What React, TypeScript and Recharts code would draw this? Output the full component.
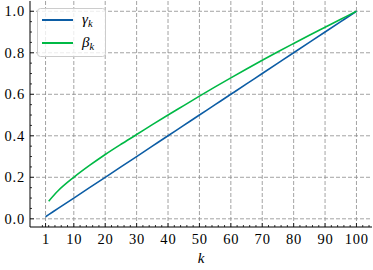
import { Legend, Line, LineChart, ReferenceLine, XAxis, YAxis } from "recharts";

const kValues = [1, 2, 5, 10, 15, 20, 25, 30, 35, 40, 45, 50, 55, 60, 65, 70, 75, 80, 85, 90, 95, 100];
const gammaValues = [0.01, 0.02, 0.05, 0.1, 0.15, 0.2, 0.25, 0.3, 0.35, 0.4, 0.45, 0.5, 0.55, 0.6, 0.65, 0.7, 0.75, 0.8, 0.85, 0.9, 0.95, 1.0];
const betaValues = [null, 0.085, 0.135, 0.2, 0.257, 0.31, 0.359, 0.406, 0.4535, 0.5, 0.5455, 0.591, 0.6355, 0.679, 0.722, 0.764, 0.805, 0.845, 0.8845, 0.923, 0.9615, 1.0];

const xMajorTicks = [1, 10, 20, 30, 40, 50, 60, 70, 80, 90, 100];
const xMinorTicks = Array.from({ length: 53 }, (_, i) => i * 2);
const yMajorTicks = [0, 0.2, 0.4, 0.6, 0.8, 1.0];
const yMinorTicks = Array.from({ length: 21 }, (_, i) => Math.round(i * 5) / 100);

const xTicks = Array.from(new Set([...xMinorTicks, ...xMajorTicks])).sort((a, b) => a - b);
const yTicks = yMinorTicks;

const legendOrder = ["gamma", "beta"];
const legendLabels: Record<string, string> = { gamma: "γ", beta: "β" };

const data = kValues.map((k, i) => ({ k, gamma: gammaValues[i], beta: betaValues[i] }));

const FONT = "'Liberation Serif', serif";
const BLUE = "#0C5DA5";
const GREEN = "#00B945";

const isMajorX = (v: number) => xMajorTicks.includes(v);
const isMajorY = (v: number) => yMajorTicks.some((t) => Math.abs(t - v) < 1e-6);

const BottomTick = (props: any) => {
  const { x, y, payload } = props;
  const major = isMajorX(payload.value);
  return (
    <g>
      <line x1={x} x2={x} y1={y} y2={y - (major ? 4 : 2)} stroke="#000" strokeWidth={0.8} />
      {major && (
        <text x={x + 0.4} y={y + 17} textAnchor="middle" style={{ fontFamily: FONT, letterSpacing: 0.8 }} fontSize={14.5} fill="#000">
          {payload.value}
        </text>
      )}
    </g>
  );
};

const TopTick = (props: any) => {
  const { x, y, payload } = props;
  const major = isMajorX(payload.value);
  return <line x1={x} x2={x} y1={y} y2={y + (major ? 4 : 2)} stroke="#000" strokeWidth={0.8} />;
};

const LeftTick = (props: any) => {
  const { x, y, payload } = props;
  const major = isMajorY(payload.value);
  return (
    <g>
      <line x1={x} x2={x + (major ? 4 : 2)} y1={y} y2={y} stroke="#000" strokeWidth={0.8} />
      {major && (
        <text x={x - 5} y={y + 5} textAnchor="end" style={{ fontFamily: FONT, letterSpacing: 0.8 }} fontSize={14.5} fill="#000">
          {payload.value.toFixed(1)}
        </text>
      )}
    </g>
  );
};

const RightTick = (props: any) => {
  const { x, y, payload } = props;
  const major = isMajorY(payload.value);
  return <line x1={x} x2={x - (major ? 4 : 2)} y1={y} y2={y} stroke="#000" strokeWidth={0.8} />;
};

const renderLegend = (props: any) => {
  const items = [...(props.payload || [])].sort(
    (a: any, b: any) => legendOrder.indexOf(a.dataKey) - legendOrder.indexOf(b.dataKey)
  );
  return (
    <svg width={69} height={49} style={{ display: "block" }}>
      <rect x={0.5} y={0.5} width={68} height={48} rx={3} fill="rgba(255,255,255,0.8)" stroke="#cccccc" />
      {items.map((entry: any, i: number) => {
        const cy = 12 + i * 23;
        return (
          <g key={entry.dataKey}>
            <line x1={5} x2={36} y1={cy} y2={cy} stroke={entry.color} strokeWidth={2} />
            <text x={45} y={cy + 4} style={{ fontFamily: FONT, fontStyle: "italic" }} fontSize={15} fill="#000">
              {legendLabels[entry.dataKey]}
              <tspan fontSize={10.5} dy={3}>k</tspan>
            </text>
          </g>
        );
      })}
    </svg>
  );
};

export default function App() {
  return (
    <div style={{ position: "absolute", left: 0, top: 0, background: "#fff" }}>
      <LineChart width={373} height={270} data={data} margin={{ top: 1, right: 1, left: 0, bottom: 0 }}>
        <XAxis
          dataKey="k"
          type="number"
          domain={[-3.95, 104.95]}
          allowDataOverflow
          ticks={xTicks}
          interval={0}
          tickSize={0}
          tickMargin={0}
          height={43}
          axisLine={{ stroke: "#000", strokeWidth: 1 }}
          tickLine={false}
          tick={BottomTick}
          label={{ value: "k", position: "insideBottom", offset: 7, style: { fontFamily: FONT, fontStyle: "italic", fontSize: 15, fill: "#000" } }}
        />
        <XAxis
          xAxisId="top"
          orientation="top"
          type="number"
          domain={[-3.95, 104.95]}
          allowDataOverflow
          ticks={xTicks}
          interval={0}
          tickSize={0}
          tickMargin={0}
          height={0}
          axisLine={{ stroke: "#000", strokeWidth: 1 }}
          tickLine={false}
          tick={TopTick}
        />
        <YAxis
          type="number"
          domain={[-0.0395, 1.0495]}
          allowDataOverflow
          ticks={yTicks}
          interval={0}
          tickSize={0}
          tickMargin={0}
          width={30}
          axisLine={{ stroke: "#000", strokeWidth: 1 }}
          tickLine={false}
          tick={LeftTick}
        />
        <YAxis
          yAxisId="right"
          orientation="right"
          type="number"
          domain={[-0.0395, 1.0495]}
          allowDataOverflow
          ticks={yTicks}
          interval={0}
          tickSize={0}
          tickMargin={0}
          width={0}
          axisLine={{ stroke: "#000", strokeWidth: 1 }}
          tickLine={false}
          tick={RightTick}
        />
        {xMajorTicks.map((v) => (
          <ReferenceLine key={`gx${v}`} x={v} stroke="#8c8c8c" strokeDasharray="4 2" strokeWidth={0.8} />
        ))}
        {yMajorTicks.map((v) => (
          <ReferenceLine key={`gy${v}`} y={v} stroke="#8c8c8c" strokeDasharray="4 2" strokeWidth={0.8} />
        ))}
        <Legend
          layout="horizontal"
          align="center"
          verticalAlign="middle"
          wrapperStyle={{ left: 37, top: 8, width: 69, height: 49 }}
          content={renderLegend}
        />
        <Line type="monotone" dataKey="gamma" stroke={BLUE} strokeWidth={1.6} dot={false} isAnimationActive={false} />
        <Line type="monotone" dataKey="beta" stroke={GREEN} strokeWidth={1.6} dot={false} isAnimationActive={false} />
      </LineChart>
    </div>
  );
}
